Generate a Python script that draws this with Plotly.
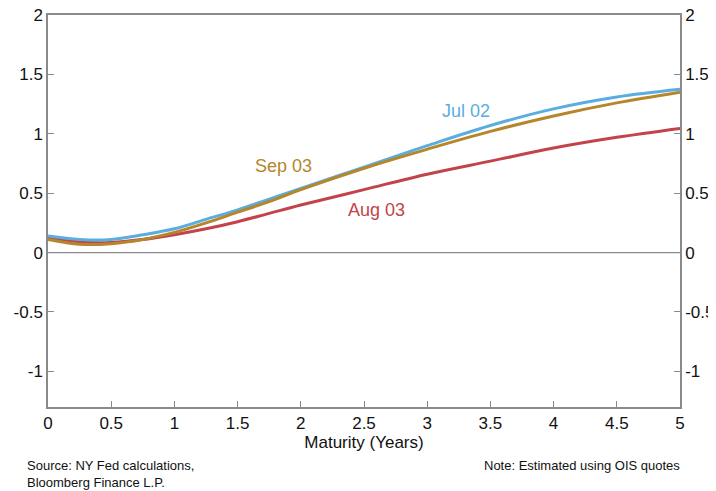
import plotly.graph_objects as go

maturity = [0, 0.25, 0.5, 0.75, 1, 1.25, 1.5, 1.75, 2, 2.5, 3, 3.5, 4, 4.5, 5]
jul02 = [0.14, 0.11, 0.11, 0.15, 0.20, 0.28, 0.36, 0.45, 0.54, 0.72, 0.90, 1.07, 1.21, 1.31, 1.375]
sep03 = [0.11, 0.07, 0.075, 0.11, 0.17, 0.25, 0.34, 0.43, 0.53, 0.71, 0.87, 1.02, 1.15, 1.26, 1.35]
aug03 = [0.13, 0.09, 0.085, 0.11, 0.15, 0.20, 0.26, 0.33, 0.40, 0.53, 0.66, 0.77, 0.88, 0.97, 1.045]

x_ticks = [0, 0.5, 1, 1.5, 2, 2.5, 3, 3.5, 4, 4.5, 5]
y_ticks = [-1, -0.5, 0, 0.5, 1, 1.5, 2]

BLUE = "#5BADE0"
GOLD = "#B5862A"
RED = "#C2434A"
AXC = "#8a8a8a"

fig = go.Figure()
for name, vals, col in [("Aug 03", aug03, RED), ("Jul 02", jul02, BLUE), ("Sep 03", sep03, GOLD)]:
    fig.add_trace(go.Scatter(x=maturity, y=vals, mode="lines", name=name,
                             line=dict(color=col, width=3, shape="spline", smoothing=1.0),
                             showlegend=False, hoverinfo="skip"))
fig.add_trace(go.Scatter(x=[0], y=[0], yaxis="y2", mode="markers",
                         marker=dict(opacity=0), showlegend=False, hoverinfo="skip"))

fig.add_annotation(x=3.31, y=1.19, text="Jul 02", showarrow=False, font=dict(size=18, color=BLUE))
fig.add_annotation(x=1.86, y=0.73, text="Sep 03", showarrow=False, font=dict(size=18, color=GOLD))
fig.add_annotation(x=2.6, y=0.36, text="Aug 03", showarrow=False, font=dict(size=18, color=RED))

fig.add_annotation(xref="paper", yref="paper", x=-0.036, y=-0.125, xanchor="left", yanchor="top", align="left",
                   text="Source: NY Fed calculations,<br>Bloomberg Finance L.P.", showarrow=False,
                   font=dict(size=13, family="Liberation Sans, Arial", color="#111"))
fig.add_annotation(xref="paper", yref="paper", x=1.003, y=-0.125, xanchor="right", yanchor="top", align="right",
                   text="Note: Estimated using OIS quotes", showarrow=False,
                   font=dict(size=13, family="Liberation Sans, Arial", color="#111"))

yax = dict(range=[-1.3, 2], tickvals=y_ticks, ticktext=[str(v) for v in y_ticks],
           ticks="inside", ticklen=6, tickcolor=AXC, showline=True, linecolor=AXC, linewidth=1.5,
           showgrid=False, zeroline=False, automargin=False, ticklabeloverflow="allow",
           tickfont=dict(size=17, family="Liberation Sans, Arial", color="#111"))

fig.update_layout(
    width=716, height=483,
    margin=dict(l=40, r=44, t=7, b=84),
    plot_bgcolor="white", paper_bgcolor="white",
    font=dict(family="Liberation Sans, Arial", color="#111"),
    xaxis=dict(range=[0, 5], tickvals=x_ticks, ticktext=[str(v) for v in x_ticks],
               ticks="inside", ticklen=6, tickcolor=AXC, showline=True, linecolor=AXC, linewidth=1.5,
               mirror=True, showgrid=False, zeroline=False, automargin=False,
               tickfont=dict(size=17, family="Liberation Sans, Arial", color="#111"),
               title=dict(text="Maturity (Years)", standoff=0,
                          font=dict(size=17, family="Liberation Sans, Arial", color="#111"))),
    yaxis=dict(**yax),
    yaxis2=dict(**yax, overlaying="y", side="right"),
    shapes=[dict(type="line", xref="paper", x0=0, x1=1, yref="y", y0=0, y1=0,
                 line=dict(color=AXC, width=1.2))],
)

fig.write_html("out.html")
